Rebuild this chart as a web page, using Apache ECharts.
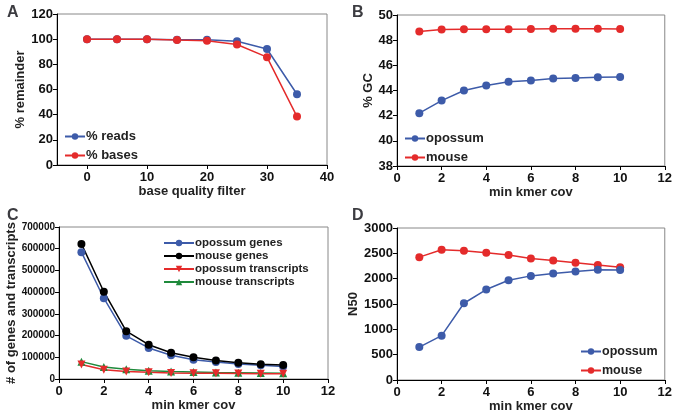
<!DOCTYPE html>
<html><head><meta charset="utf-8">
<script src="https://cdn.jsdelivr.net/npm/echarts@6/dist/echarts.min.js"></script>
<style>html,body{margin:0;padding:0;background:#fff}#c{width:675px;height:415px}</style>
</head><body><div id="c"></div>
<script>
// Panel A
const qualityX = [0, 5, 10, 15, 20, 25, 30, 35];
const pctReads = [100, 100, 100, 99.5, 99.5, 98.4, 92.2, 56.2];
const pctBases = [100, 100, 100, 99.3, 98.7, 95.8, 85.7, 38.5];
const qualityTicks = [0, 10, 20, 30, 40];
// Panel B, C, D shared x
const kmerCov = [1, 2, 3, 4, 5, 6, 7, 8, 9, 10];
// Panel B
const gcOpossum = [42.2, 43.2, 44.0, 44.4, 44.7, 44.8, 44.95, 45.0, 45.05, 45.08];
const gcMouse = [48.68, 48.85, 48.86, 48.87, 48.87, 48.88, 48.9, 48.9, 48.9, 48.88];
// Panel C
const opossumGenes = [584000, 372000, 199000, 143000, 109000, 89000, 78000, 69000, 63000, 58000];
const mouseGenes = [622000, 402000, 220000, 158000, 121000, 100000, 85000, 75000, 68000, 64000];
const opossumTranscripts = [67000, 43000, 35000, 31000, 28000, 26000, 26000, 25000, 24000, 24000];
const mouseTranscripts = [80000, 55000, 45000, 38000, 34000, 32000, 30000, 29000, 28000, 27000];
// Panel D
const n50Opossum = [650, 875, 1515, 1785, 1970, 2055, 2100, 2140, 2175, 2170];
const n50Mouse = [2425, 2570, 2550, 2510, 2465, 2400, 2360, 2315, 2270, 2225];

const BLUE = '#3d5ba9', RED = '#e42b2b', BLACK = '#000000', GREEN = '#1f8a3c';
const FONT = 'Liberation Sans, Arial, sans-serif';
const plain = v => String(v);

function pairs(xs, ys) { return xs.map((x, i) => [x, ys[i]]); }

function xAx(gi, min, max, interval, name, gap, custom) {
  const tick = { show: true, length: 4, lineStyle: { color: '#000' } };
  const lab = { fontFamily: FONT, fontWeight: 'bold', fontSize: 13, color: '#111', margin: 6, formatter: plain };
  if (custom) { tick.customValues = custom; lab.customValues = custom; }
  return {
    type: 'value', gridIndex: gi, min: min, max: max, interval: interval,
    name: name, nameLocation: 'middle', nameGap: gap,
    nameTextStyle: { fontFamily: FONT, fontWeight: 'bold', fontSize: 13, color: '#222' },
    axisLine: { show: true, onZero: false, lineStyle: { color: '#000', width: 1 } },
    axisTick: tick, axisLabel: lab,
    splitLine: { show: false }
  };
}
function yAx(gi, min, max, interval, name, gap, labelSize) {
  return {
    type: 'value', gridIndex: gi, min: min, max: max, interval: interval,
    name: name, nameLocation: 'middle', nameGap: gap, nameRotate: 90,
    nameTextStyle: { fontFamily: FONT, fontWeight: 'bold', fontSize: 13, color: '#222' },
    axisLine: { show: true, onZero: false, lineStyle: { color: '#000', width: 1 } },
    axisTick: { show: true, length: 4, lineStyle: { color: '#000' } },
    axisLabel: { fontFamily: FONT, fontWeight: 'bold', fontSize: labelSize || 13, color: '#111', margin: 4, formatter: plain },
    splitLine: { show: false }
  };
}
function ser(name, gi, xs, ys, color, symbol, size) {
  return {
    type: 'line', name: name, xAxisIndex: gi, yAxisIndex: gi,
    data: pairs(xs, ys), symbol: symbol || 'circle', symbolSize: size || 8,
    showSymbol: true, animation: false,
    lineStyle: { color: color, width: 1.5 }, itemStyle: { color: color }
  };
}
function leg(names, left, top, gap, iw, fs, lh) {
  return {
    data: names, orient: 'vertical', left: left, top: top, itemGap: gap,
    itemWidth: iw || 20, itemHeight: 8, padding: 0, selectedMode: false,
    textStyle: { fontFamily: FONT, fontWeight: 'bold', fontSize: fs || 13, lineHeight: lh || undefined, color: '#222', padding: [0, 0, 0, -4] }
  };
}
const gridStyle = { show: true, borderColor: '#888', borderWidth: 1, backgroundColor: 'transparent' };

const option = {
  animation: false,
  title: [
    { text: 'A', left: 2, top: 0, textStyle: { fontFamily: FONT, fontWeight: 'bold', fontSize: 16 } },
    { text: 'B', left: 347, top: 0, textStyle: { fontFamily: FONT, fontWeight: 'bold', fontSize: 16 } },
    { text: 'C', left: 2, top: 203, textStyle: { fontFamily: FONT, fontWeight: 'bold', fontSize: 16 } },
    { text: 'D', left: 347, top: 203, textStyle: { fontFamily: FONT, fontWeight: 'bold', fontSize: 16 } }
  ],
  grid: [
    Object.assign({ left: 57, top: 14, width: 270, height: 151 }, gridStyle),
    Object.assign({ left: 397, top: 15, width: 270, height: 151 }, gridStyle),
    Object.assign({ left: 59, top: 227, width: 269, height: 152 }, gridStyle),
    Object.assign({ left: 397, top: 228, width: 270, height: 152 }, gridStyle)
  ],
  xAxis: [
    xAx(0, -5, 40, 5, 'base quality filter', 20, qualityTicks),
    xAx(1, 0, 12, 2, 'min kmer cov', 19),
    xAx(2, 0, 12, 2, 'min kmer cov', 16),
    xAx(3, 0, 12, 2, 'min kmer cov', 20)
  ],
  yAxis: [
    yAx(0, 0, 120, 20, '% remainder', 28),
    yAx(1, 38, 50, 2, '% GC', 22),
    yAx(2, 0, 700000, 100000, '# of genes and transcripts', 41, 10),
    yAx(3, 0, 3000, 500, 'N50', 35)
  ],
  legend: [
    leg(['% reads', '% bases'], 64, 130, 6),
    leg(['opossum', 'mouse'], 404, 132, 6),
    leg(['opossum genes', 'mouse genes', 'opossum transcripts', 'mouse transcripts'], 163, 237, 1, 30, 11.5, 12),
    leg(['opossum ', 'mouse '], 580, 345, 6, 20, 12.5)
  ],
  series: [
    ser('% reads', 0, qualityX, pctReads, BLUE),
    ser('% bases', 0, qualityX, pctBases, RED),
    ser('mouse', 1, kmerCov, gcMouse, RED),
    ser('opossum', 1, kmerCov, gcOpossum, BLUE),
    ser('opossum genes', 2, kmerCov, opossumGenes, BLUE),
    ser('mouse genes', 2, kmerCov, mouseGenes, BLACK),
    ser('mouse transcripts', 2, kmerCov, mouseTranscripts, GREEN, 'triangle', 8),
    ser('opossum transcripts', 2, kmerCov, opossumTranscripts, RED, 'path://M0,0 L10,0 L5,9 Z', 8),
    ser('mouse ', 3, kmerCov, n50Mouse, RED),
    ser('opossum ', 3, kmerCov, n50Opossum, BLUE)
  ]
};
const chart = echarts.init(document.getElementById('c'), null, { renderer: 'canvas' });
chart.setOption(option);
</script></body></html>
